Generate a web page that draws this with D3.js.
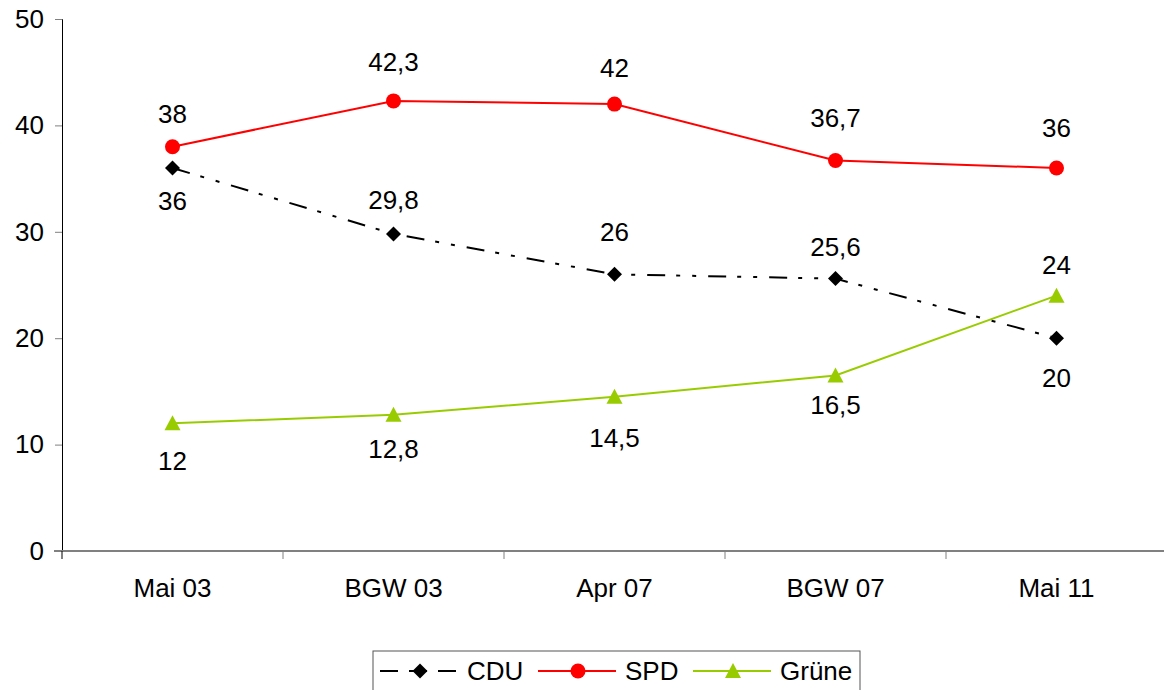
<!DOCTYPE html>
<html lang="de">
<head>
    <meta charset="UTF-8">
    <script src="https://d3js.org/d3.v7.min.js"></script>
    <title>CDU SPD Grüne</title>
    <style>
        body{
            margin: 0;
            font-family: "Liberation Sans", Arial, sans-serif;
            background: #fff;
        }
        svg{
            display: block;
        }
        text{
            font-size: 26px;
            fill: #000;
        }
    </style>
</head>
<body>
<svg width="1164" height="690"></svg>
<script>
// data
let categories = ["Mai 03", "BGW 03", "Apr 07", "BGW 07", "Mai 11"]
let cdu = [36, 29.8, 26, 25.6, 20]
let spd = [38, 42.3, 42, 36.7, 36]
let gruene = [12, 12.8, 14.5, 16.5, 24]
let yTicks = [0, 10, 20, 30, 40, 50]

// label baseline offset from its point, in px (negative = above)
let cduLabelDy = [42, -25, -33, -23, 49]
let spdLabelDy = [-24, -30, -27, -34, -31]
let grueneLabelDy = [47, 43, 50, 39, -22]

let svg = d3.select("svg")
let plotLeft = 62, plotRight = 1167, plotTop = 19, plotBottom = 551

let x = d3.scaleBand().domain(categories).range([plotLeft, plotRight])
let y = d3.scaleLinear().domain([0, 50]).range([plotBottom, plotTop])

// y axis
let yAxis = svg.append("g").attr("transform", "translate(" + plotLeft + ",0)")
    .call(d3.axisLeft(y).tickValues(yTicks).tickSize(7).tickPadding(11))
yAxis.select(".domain").attr("stroke", "#000")
yAxis.selectAll(".tick line").attr("stroke", "#808080")
yAxis.selectAll("text").style("font-size", "26px").attr("font-family", null)

// x axis, ticks between categories
let xAxis = svg.append("g").attr("transform", "translate(0," + plotBottom + ")")
xAxis.append("line").attr("x1", plotLeft - 8).attr("x2", plotRight)
    .attr("stroke", "#808080").attr("stroke-width", 2)
xAxis.selectAll(".sep").data(categories.slice(1)).enter().append("line")
    .attr("x1", d => x(d)).attr("x2", d => x(d))
    .attr("y1", 0).attr("y2", 8).attr("stroke", "#808080")
xAxis.append("line").attr("x1", plotLeft).attr("x2", plotLeft)
    .attr("y1", 0).attr("y2", 8).attr("stroke", "#000")
xAxis.selectAll(".lab").data(categories).enter().append("text")
    .attr("x", d => x(d) + x.bandwidth() / 2)
    .attr("y", 46)
    .attr("text-anchor", "middle")
    .text(d => d)

let cx = (d, i) => x(categories[i]) + x.bandwidth() / 2
let line = d3.line().x(cx).y(d => y(d))
let fmt = v => String(v).replace(".", ",")

let series = [
    {name: "CDU", values: cdu, dy: cduLabelDy, color: "#000", dash: "18,11,4,12,4,12", marker: "diamond"},
    {name: "SPD", values: spd, dy: spdLabelDy, color: "#ff0000", dash: null, marker: "circle"},
    {name: "Grüne", values: gruene, dy: grueneLabelDy, color: "#99cc00", dash: null, marker: "triangle"}
]

function drawMarker(g, type, color) {
    if (type === "circle") {
        g.append("circle").attr("r", 7.5).attr("fill", color)
    } else if (type === "diamond") {
        g.append("path").attr("d", "M0,-7.5L7.5,0L0,7.5L-7.5,0Z").attr("fill", color)
    } else {
        g.append("path").attr("d", "M0,-8L8,7L-8,7Z").attr("fill", color)
    }
}

// draw in order so SPD sits above CDU like the picture
;[series[2], series[0], series[1]].forEach(function (s) {
    svg.append("path").datum(s.values)
        .attr("d", line)
        .attr("fill", "none")
        .attr("stroke", s.color)
        .attr("stroke-width", 2)
        .attr("stroke-dasharray", s.dash)
    s.values.forEach(function (v, i) {
        let g = svg.append("g").attr("transform", "translate(" + cx(v, i) + "," + y(v) + ")")
        drawMarker(g, s.marker, s.color)
    })
})

// data labels
series.forEach(function (s) {
    svg.selectAll(null).data(s.values).enter().append("text")
        .attr("x", cx)
        .attr("y", (d, i) => y(d) + s.dy[i])
        .attr("text-anchor", "middle")
        .text(fmt)
})

// legend
let legend = svg.append("g").attr("transform", "translate(373,651)")
legend.append("rect").attr("x", 0).attr("y", 0).attr("width", 487).attr("height", 45)
    .attr("fill", "#fff").attr("stroke", "#555")
let lx = [7, 165, 320]
series.forEach(function (s, i) {
    let g = legend.append("g").attr("transform", "translate(" + lx[i] + ",20)")
    g.append("line").attr("x1", 0).attr("x2", 78)
        .attr("stroke", s.color).attr("stroke-width", 2)
        .attr("stroke-dasharray", s.dash ? "18,11" : null)
    let m = g.append("g").attr("transform", "translate(40,0)")
    drawMarker(m, s.marker, s.color)
    g.append("text").attr("x", 87).attr("y", 9).text(s.name)
})
</script>
</body>
</html>
